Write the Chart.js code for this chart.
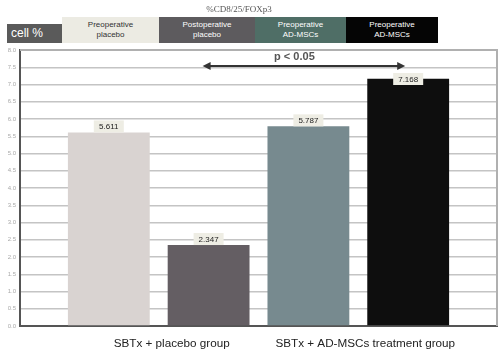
<!DOCTYPE html>
<html>
<head>
<meta charset="utf-8">
<script src="https://cdn.jsdelivr.net/npm/chart.js@4"></script>
<style>
  body { margin: 0; background: #fff; }
  #wrap { position: relative; width: 503px; height: 351px; }
  #title { position: absolute; left: 0; width: 478px; top: 4px; text-align: center;
    font: 9px "Liberation Serif", serif; color: #555; }
  .lg { position: absolute; top: 17px; height: 26px; display: flex; align-items: center;
    justify-content: center; text-align: center; font: 8px "Liberation Sans", Arial, sans-serif;
    line-height: 10px; color: #fff; }
  #cell { position: absolute; left: 7px; top: 24px; width: 55px; height: 19px; background: #5a5a5a;
    color: #fff; font: 12px "Liberation Sans", Arial, sans-serif; line-height: 19px; padding-left: 4px; box-sizing: border-box; }
</style>
</head>
<body>
<div id="wrap">
  <canvas id="c" width="503" height="351"></canvas>
  <div id="title">%CD8/25/FOXp3</div>
  <div id="cell">cell %</div>
  <div id="legend"></div>
</div>
<script>
// values
const seriesNames = ["Preoperative\nplacebo", "Postoperative\nplacebo", "Preoperative\nAD-MSCs", "Preoperative\nAD-MSCs"];
const values = [5.611, 2.347, 5.787, 7.168];
const barColors = ["#d9d3d1", "#645e63", "#778a8f", "#0e0e0e"];
const legendColors = ["#ecebe3", "#5d5b5e", "#4f6e66", "#050505"];
const legendText = ["#333", "#fff", "#fff", "#fff"];
const groupLabels = ["SBTx + placebo group", "SBTx + AD-MSCs treatment group"];
const yTicks = [0, 0.5, 1, 1.5, 2, 2.5, 3, 3.5, 4, 4.5, 5, 5.5, 6, 6.5, 7, 7.5, 8];
const pLabel = "p < 0.05";

// legend boxes
const legendEdges = [62, 159, 255, 346, 438];
const lg = document.getElementById("legend");
seriesNames.forEach((n, i) => {
  const d = document.createElement("div");
  d.className = "lg";
  d.style.left = legendEdges[i] + "px";
  d.style.width = (legendEdges[i + 1] - legendEdges[i]) + "px";
  d.style.background = legendColors[i];
  d.style.color = legendText[i];
  d.innerHTML = n.replace("\n", "<br>");
  lg.appendChild(d);
});

const frame = {
  id: "frame",
  beforeDatasetsDraw(chart) {
    const { ctx, chartArea: a } = chart;
    ctx.save();
    ctx.strokeStyle = "#b0b0b0";
    ctx.lineWidth = 2;
    ctx.beginPath();
    ctx.moveTo(a.left, a.top);
    ctx.lineTo(a.right, a.top);
    ctx.lineTo(a.right, a.bottom);
    ctx.stroke();
    ctx.restore();
  }
};

const valueBoxes = {
  id: "valueBoxes",
  afterDatasetsDraw(chart) {
    const { ctx, chartArea: a } = chart;
    const meta = chart.getDatasetMeta(0);
    ctx.save();
    ctx.font = "8px 'Liberation Sans', Arial, sans-serif";
    ctx.textAlign = "center";
    ctx.textBaseline = "middle";
    meta.data.forEach((bar, i) => {
      const w = 30, h = 12;
      const top = Math.max(bar.y - h, a.top + 23);
      ctx.fillStyle = "#eeede4";
      ctx.fillRect(bar.x - w / 2, top, w, h);
      ctx.fillStyle = "#222";
      ctx.fillText(values[i].toFixed(3), bar.x, top + h / 2 + 0.5);
    });
    ctx.restore();
  }
};

const sigArrow = {
  id: "sigArrow",
  afterDatasetsDraw(chart) {
    const { ctx, chartArea: a, scales: { x } } = chart;
    const x1 = x.getPixelForValue(0.94), x2 = x.getPixelForValue(2.97);
    const y = a.top + 16;
    ctx.save();
    ctx.strokeStyle = "#333";
    ctx.fillStyle = "#333";
    ctx.lineWidth = 2;
    ctx.beginPath();
    ctx.moveTo(x1 + 4, y);
    ctx.lineTo(x2 - 4, y);
    ctx.stroke();
    ctx.beginPath();
    ctx.moveTo(x1, y); ctx.lineTo(x1 + 8, y - 4); ctx.lineTo(x1 + 8, y + 4); ctx.closePath();
    ctx.moveTo(x2, y); ctx.lineTo(x2 - 8, y - 4); ctx.lineTo(x2 - 8, y + 4); ctx.closePath();
    ctx.fill();
    ctx.fillStyle = "#555";
    ctx.font = "bold 11px 'Liberation Sans', Arial, sans-serif";
    ctx.textAlign = "center";
    ctx.textBaseline = "middle";
    ctx.fillText(pLabel, x.getPixelForValue(1.86), a.top + 7);
    ctx.restore();
  }
};

new Chart(document.getElementById("c"), {
  type: "bar",
  data: {
    datasets: [{
      data: values.map((v, i) => ({ x: i, y: v })),
      backgroundColor: barColors,
      barPercentage: 0.82,
      categoryPercentage: 1
    }]
  },
  options: {
    responsive: false,
    animation: false,
    layout: { padding: { top: 50, right: 6, left: 0, bottom: 0 } },
    plugins: { legend: { display: false }, tooltip: { enabled: false } },
    scales: {
      x: {
        type: "linear",
        min: -0.89,
        max: 3.89,
        offset: false,
        grid: { display: false, drawTicks: false, offset: false },
        border: { color: "#555", width: 2 },
        afterBuildTicks: (s) => { s.ticks = [{ value: 0.63 }, { value: 2.57 }]; },
        afterFit: (s) => { s.height = 25; },
        ticks: {
          autoSkip: false,
          maxRotation: 0,
          padding: 11,
          color: "#222",
          font: { family: "'Liberation Sans', Arial, sans-serif", size: 11.7 },
          callback: (v, i) => groupLabels[i]
        }
      },
      y: {
        min: 0,
        max: 8,
        afterBuildTicks: (s) => { s.ticks = yTicks.map(v => ({ value: v })); },
        afterFit: (s) => { s.width = 20; },
        grid: { color: "#c4c4c4", lineWidth: 1.5, drawTicks: false },
        border: { color: "#555", width: 2 },
        ticks: {
          padding: 4,
          color: "#aaa",
          font: { family: "'Liberation Sans', Arial, sans-serif", size: 6 },
          callback: (v) => v.toFixed(1)
        }
      }
    }
  },
  plugins: [frame, valueBoxes, sigArrow]
});
</script>
</body>
</html>
